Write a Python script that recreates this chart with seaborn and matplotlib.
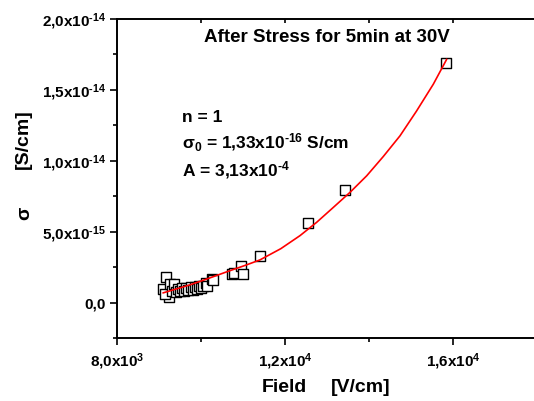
import matplotlib
matplotlib.use("Agg")
import matplotlib.pyplot as plt
import seaborn as sns
import pandas as pd
from matplotlib.ticker import FixedLocator, FixedFormatter

# ---- data ----
field = [9107, 9167, 9231, 9150, 9262, 9300, 9357, 9400, 9450, 9500, 9550,
         9600, 9650, 9700, 9750, 9800, 9850, 9900, 9950, 10000, 10050,
         10119, 10150, 10262, 10286, 10731, 10786, 10952, 11000, 11398,
         12555, 13429, 15826]
sigma = [0.99e-15, 1.83e-15, 0.42e-15, 0.60e-15, 1.30e-15, 0.85e-15, 1.34e-15,
         0.75e-15, 0.95e-15, 0.78e-15, 1.00e-15, 0.82e-15, 1.05e-15, 0.88e-15,
         1.10e-15, 0.92e-15, 1.12e-15, 0.98e-15, 1.15e-15, 1.05e-15, 1.20e-15,
         1.41e-15, 1.15e-15, 1.69e-15, 1.62e-15, 2.02e-15, 2.10e-15, 2.61e-15,
         2.00e-15, 3.29e-15, 5.58e-15, 7.96e-15, 16.92e-15]

fit_field = [9095, 9400, 9738, 10100, 10690, 11050, 11405, 11900, 12357, 12750,
             13150, 13550, 13945, 14340, 14738, 15130, 15531, 15850]
fit_sigma = [0.68e-15, 0.95e-15, 1.25e-15, 1.62e-15, 2.25e-15, 2.62e-15, 3.01e-15,
             3.80e-15, 4.72e-15, 5.65e-15, 6.71e-15, 7.78e-15, 8.94e-15, 10.30e-15,
             11.76e-15, 13.50e-15, 15.40e-15, 17.16e-15]

x_ticks = [8000, 12000, 16000]
x_tick_labels = [r"8,0x10$^{3}$", r"1,2x10$^{4}$", r"1,6x10$^{4}$"]
x_minor = [10000, 14000, 18000]
y_ticks = [0, 5e-15, 1e-14, 1.5e-14, 2e-14]
y_tick_labels = ["0,0", r"5,0x10$^{\text{-15}}$", r"1,0x10$^{\text{-14}}$",
                 r"1,5x10$^{\text{-14}}$", r"2,0x10$^{\text{-14}}$"]
y_minor = [-2.5e-15, 2.5e-15, 7.5e-15, 1.25e-14, 1.75e-14]

title = "After Stress for 5min at 30V"
ann_lines = ["n = 1", r"$\sigma_{0}$ = 1,33x10$^{\text{-16}}$ S/cm",
             r"A = 3,13x10$^{\text{-4}}$"]

# ---- style ----
sns.set_style("ticks")
plt.rcParams["font.family"] = ["Liberation Sans", "DejaVu Sans"]
plt.rcParams["font.weight"] = "bold"
plt.rcParams["text.color"] = "black"
plt.rcParams["axes.labelcolor"] = "black"
plt.rcParams["xtick.color"] = "black"
plt.rcParams["ytick.color"] = "black"
plt.rcParams["mathtext.fontset"] = "custom"
plt.rcParams["mathtext.rm"] = "Liberation Sans:bold"
plt.rcParams["mathtext.it"] = "Liberation Sans:bold"
plt.rcParams["mathtext.bf"] = "Liberation Sans:bold"
plt.rcParams["mathtext.default"] = "rm"

fig = plt.figure(figsize=(5.34, 4.01), dpi=100)
ax = fig.add_axes([117 / 534, 1 - 338 / 401, (537 - 117) / 534, (338 - 19) / 401])

df = pd.DataFrame({"field": field, "sigma": sigma})
fit_df = pd.DataFrame({"field": fit_field, "sigma": fit_sigma})

sns.scatterplot(data=df, x="field", y="sigma", ax=ax, marker="s", s=46,
                facecolor="white", edgecolor="black", linewidth=1.0, zorder=2)
sns.lineplot(data=fit_df, x="field", y="sigma", ax=ax, color="red",
             linewidth=1.2, sort=False, zorder=3)

ax.set_xlim(8000, 18000)
ax.set_ylim(-2.5e-15, 2.0e-14)
ax.xaxis.set_major_locator(FixedLocator(x_ticks))
ax.xaxis.set_major_formatter(FixedFormatter(x_tick_labels))
ax.xaxis.set_minor_locator(FixedLocator(x_minor))
ax.yaxis.set_major_locator(FixedLocator(y_ticks))
ax.yaxis.set_major_formatter(FixedFormatter(y_tick_labels))
ax.yaxis.set_minor_locator(FixedLocator(y_minor))

for sp in ax.spines.values():
    sp.set_linewidth(1.4)
    sp.set_color("black")

ax.tick_params(axis="both", which="major", direction="out", length=5, width=1.2,
               labelsize=11, pad=3, colors="black")
ax.tick_params(axis="both", which="minor", direction="out", length=3, width=1.2)
ax.tick_params(axis="x", which="major", pad=5)
ax.tick_params(top=True, right=True, which="both")
for t in ax.xaxis.get_ticklines(minor=False)[1::2] + ax.xaxis.get_ticklines(minor=True)[1::2]:
    t.set_marker(3)  # inward ticks on top
    t.set_markersize(3)
for lab in ax.get_xticklabels() + ax.get_yticklabels():
    lab.set_fontweight("bold")
    lab.set_color("black")

ax.set_xlabel("")
ax.set_ylabel("")
fig.text(284 / 534, 1 - 387 / 401, "Field", ha="center", va="center",
         fontsize=14, fontweight="bold")
fig.text(361 / 534, 1 - 387 / 401, "[V/cm]", ha="center", va="center",
         fontsize=14, fontweight="bold")
fig.text(23 / 534, 1 - 139.5 / 401, "[S/cm]", ha="center", va="center",
         rotation=90, fontsize=14, fontweight="bold")
fig.text(25 / 534, 1 - 214 / 401, r"$\sigma$", ha="center", va="center",
         rotation=90, fontsize=14, fontweight="bold")

ax.text((327 - 117) / 420, (338 - 38) / 319, title, transform=ax.transAxes,
        ha="center", va="center", fontsize=13.5, fontweight="bold")
ann_y = [118, 143, 170]
for txt, yy in zip(ann_lines, ann_y):
    ax.text((182 - 117) / 420, (338 - yy) / 319, txt, transform=ax.transAxes,
            ha="left", va="center", fontsize=12.5, fontweight="bold")

fig.savefig("out.png", dpi=100)
